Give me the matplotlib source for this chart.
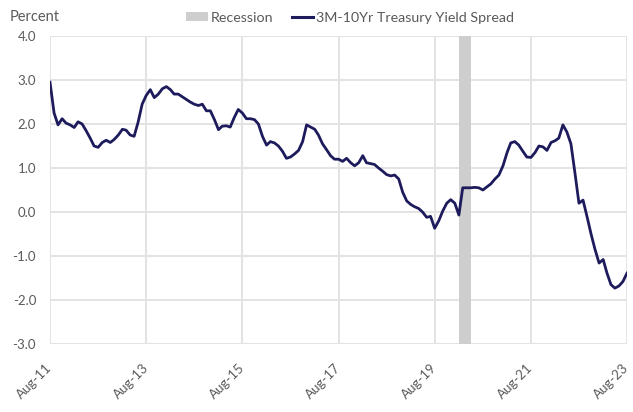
import matplotlib
matplotlib.use("Agg")
import matplotlib.pyplot as plt
from matplotlib.patches import Patch
from matplotlib.lines import Line2D
import pandas as pd

start_month = "2011-08-01"
spread = [
    2.95, 2.25, 1.98, 2.12, 2.02, 1.98, 1.92, 2.05, 2.00, 1.85,
    1.68, 1.50, 1.47, 1.58, 1.63, 1.58, 1.65, 1.75, 1.88, 1.86,
    1.75, 1.72, 2.05, 2.45, 2.65, 2.78, 2.60, 2.68, 2.80, 2.85,
    2.78, 2.68, 2.68, 2.62, 2.56, 2.50, 2.45, 2.42, 2.45, 2.30,
    2.30, 2.10, 1.87, 1.95, 1.96, 1.93, 2.15, 2.33, 2.25, 2.12,
    2.12, 2.10, 2.00, 1.72, 1.52, 1.60, 1.57, 1.50, 1.38, 1.22,
    1.25, 1.32, 1.40, 1.60, 1.98, 1.93, 1.88, 1.75, 1.55, 1.42,
    1.28, 1.20, 1.20, 1.15, 1.22, 1.12, 1.05, 1.12, 1.28, 1.12,
    1.10, 1.08, 1.00, 0.93, 0.85, 0.82, 0.84, 0.75, 0.45, 0.25,
    0.17, 0.12, 0.08, 0.00, -0.12, -0.10, -0.37, -0.20, 0.02, 0.20,
    0.28, 0.20, -0.07, 0.55, 0.55, 0.55, 0.56, 0.55, 0.50, 0.57,
    0.64, 0.75, 0.84, 1.05, 1.35, 1.57, 1.60, 1.52, 1.38, 1.25,
    1.24, 1.35, 1.50, 1.48, 1.40, 1.58, 1.62, 1.68, 1.98, 1.82,
    1.55, 0.90, 0.20, 0.27, -0.10, -0.50, -0.85, -1.16, -1.08, -1.38,
    -1.65, -1.73, -1.68, -1.58, -1.39,
]
recession_start = "2020-02-05"
recession_end = "2020-05-01"
y_ticks = [4.0, 3.0, 2.0, 1.0, 0.0, -1.0, -2.0, -3.0]
x_tick_labels = ["Aug-11", "Aug-13", "Aug-15", "Aug-17", "Aug-19", "Aug-21", "Aug-23"]
x_tick_dates = ["2011-08-01", "2013-08-01", "2015-08-01", "2017-08-01",
                "2019-08-01", "2021-08-01", "2023-08-01"]

dates = pd.date_range(start_month, periods=len(spread), freq="MS")

plt.rcParams['font.family'] = ['Lato', 'DejaVu Sans']
text_color = "#5a5a5a"
line_color = "#1d1b5c"
grid_color = "#e3e3e3"
rec_color = "#cecece"

fig = plt.figure(figsize=(6.33, 4.12), dpi=100)
ax = fig.add_axes([50/633, 1-344/412, (627-50)/633, (344-36)/412])

ax.axvspan(pd.Timestamp(recession_start), pd.Timestamp(recession_end),
           color=rec_color, lw=0, zorder=1)
ax.plot(dates, spread, color=line_color, lw=2.0, zorder=3)

ax.set_ylim(-3.0, 4.0)
ax.set_yticks(y_ticks)
ax.set_yticklabels([f"{v:.1f}" for v in y_ticks])
ax.set_xlim(pd.Timestamp(x_tick_dates[0]), pd.Timestamp(x_tick_dates[-1]))
ax.set_xticks([pd.Timestamp(d) for d in x_tick_dates])
ax.set_xticklabels(x_tick_labels, rotation=45, ha="right", va="center",
                   rotation_mode="anchor")

ax.grid(True, color=grid_color, lw=1.4, zorder=0)
ax.set_axisbelow(True)
for s in ax.spines.values():
    s.set_visible(False)
ax.tick_params(length=0, colors=text_color)
ax.tick_params(axis="y", pad=10, labelsize=9.5)
ax.tick_params(axis="x", pad=16, labelsize=9.5)

fig.text(10/633, 1-17/412, "Percent", color=text_color, fontsize=10.5, va="center", ha="left")

handles = [Patch(facecolor=rec_color, edgecolor="none"),
           Line2D([0], [0], color=line_color, lw=2.2)]
fig.legend(handles, ["Recession", "3M-10Yr Treasury Yield Spread"],
           loc="center", bbox_to_anchor=(350/633, 1-18/412), ncol=2, frameon=False,
           fontsize=10.3, labelcolor=text_color, handlelength=1.5, handletextpad=0.2,
           columnspacing=1.3, handleheight=0.6)

fig.savefig("out.png", dpi=100)
